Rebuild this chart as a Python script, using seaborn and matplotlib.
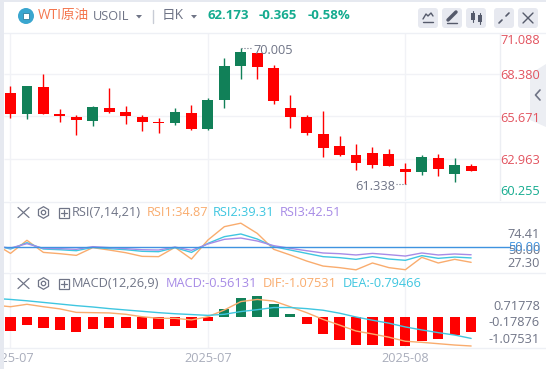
import numpy as np
import pandas as pd
import matplotlib
matplotlib.use("Agg")
import matplotlib.pyplot as plt
from matplotlib.patches import FancyBboxPatch, Rectangle, Circle, RegularPolygon, Polygon
import seaborn as sns

# candle data
opens = [67.18, 65.83, 67.57, 65.83, 65.64, 65.38, 66.21, 65.96, 65.64, 65.31, 65.25, 65.89, 64.86, 66.73, 68.92,
         69.75, 68.79, 66.21, 65.64, 64.54, 63.77, 63.19, 63.32, 63.26, 62.29, 62.10, 63.00, 61.97, 62.49]
closes = [65.83, 67.63, 65.83, 65.70, 65.44, 66.28, 65.96, 65.70, 65.31, 65.25, 65.96, 64.86, 66.73, 68.92, 69.82,
          68.85, 66.67, 65.64, 64.61, 63.64, 63.19, 62.68, 62.55, 62.49, 62.10, 63.06, 62.29, 62.55, 62.173]
highs = [67.63, 67.63, 68.40, 66.15, 65.76, 66.34, 67.50, 66.34, 65.76, 65.57, 66.21, 66.41, 66.86, 69.43, 70.05,
         69.75, 68.98, 67.05, 65.76, 66.02, 64.41, 63.90, 63.71, 63.58, 62.68, 63.19, 63.26, 63.00, 62.61]
lows = [65.57, 65.51, 65.83, 65.31, 64.48, 65.06, 65.89, 65.19, 64.74, 64.61, 65.12, 64.82, 64.82, 66.21, 68.08,
        68.08, 66.47, 64.93, 64.48, 63.06, 63.13, 62.23, 62.36, 62.49, 61.338, 61.91, 61.84, 61.46, 62.16]

# RSI / MACD lines start one day before the first candle
line_days = list(range(-1, 29))
rsi1 = [54.0, 43.9, 57.1, 44.9, 43.6, 41.9, 49.7, 47.3, 44.6, 40.9, 40.6, 50.0, 38.2, 57.4, 70.9,
        74.41, 64.1, 48.0, 42.3, 36.2, 31.1, 29.5, 27.3, 34.2, 29.5, 27.4, 39.9, 34.2, 37.9, 34.87]
rsi2 = [52.4, 48.3, 54.7, 48.3, 47.6, 46.6, 50.0, 48.7, 47.6, 46.0, 45.6, 49.7, 44.9, 54.0, 60.8,
        63.5, 58.4, 50.7, 47.3, 43.9, 40.6, 39.6, 37.9, 40.6, 38.2, 36.9, 41.6, 38.9, 40.2, 39.31]
rsi3 = [51.3, 49.3, 53.7, 49.0, 48.7, 48.0, 50.7, 49.7, 48.7, 47.6, 47.3, 50.3, 47.0, 53.4, 58.1,
        59.4, 56.4, 51.7, 49.0, 46.6, 44.3, 43.6, 42.3, 43.9, 42.6, 41.2, 44.3, 42.3, 43.3, 42.51]
dif = [0.44, 0.38, 0.47, 0.38, 0.30, 0.17, 0.16, 0.15, 0.10, 0.01, -0.05, -0.05, -0.11, 0.01, 0.26,
       0.57, 0.65, 0.59, 0.38, 0.16, -0.09, -0.30, -0.52, -0.63, -0.75, -0.90, -0.94, -0.99, -1.04, -1.07531]
dea = [0.69, 0.65, 0.60, 0.54, 0.48, 0.42, 0.37, 0.31, 0.26, 0.21, 0.16, 0.12, 0.09, 0.06, 0.10,
       0.20, 0.27, 0.35, 0.35, 0.31, 0.25, 0.14, 0.00, -0.12, -0.23, -0.37, -0.48, -0.58, -0.67, -0.79466]
hist = [-0.52, -0.30, -0.41, -0.48, -0.56, -0.44, -0.41, -0.41, -0.44, -0.44, -0.33, -0.41, -0.15, 0.30, 0.70,
        0.78, 0.48, 0.11, -0.26, -0.63, -0.85, -1.04, -1.04, -1.07, -1.07, -0.89, -0.81, -0.67, -0.56131]

price_labels = ["71.088", "68.380", "65.671", "62.963", "60.255"]
price_grid = [68.38, 65.671, 62.963]
rsi_labels = ["74.41", "50.00", "27.30"]
macd_labels = ["0.71778", "-0.17876", "-1.07531"]
date_labels = ["2025-07", "2025-07", "2025-08"]
date_days = [0, 12, 24]

RED = "#ff0000"
GREEN = "#118058"
TEAL = "#14ab8f"
ORANGE = "#f9ac6e"
CYAN = "#3fc6e0"
PURPLE = "#a78be6"
GRID = "#f1f2f6"
GREY = "#6f7486"

sns.set_style("white")
plt.rcParams["font.family"] = ["Open Sans", "Noto Sans CJK SC", "DejaVu Sans"]

W, H = 546, 369
fig = plt.figure(figsize=(W / 100, H / 100), dpi=100, facecolor="white")


def panel(top, bottom):
    ax = fig.add_axes([4 / W, 1 - bottom / H, (W - 4) / W, (bottom - top) / H])
    ax.patch.set_alpha(0)
    return ax


x_range = (-0.395, 32.55)
grid_end = 29.76

# price panel
ax = panel(33, 201)
for d in date_days:
    ax.axvline(d, color=GRID, lw=1, zorder=0)
ax.hlines(price_grid, x_range[0], grid_end, color=GRID, lw=1, zorder=0)
days = np.arange(len(opens))
for i in days:
    c = GREEN if closes[i] > opens[i] else RED
    ax.vlines(i, lows[i], highs[i], color=c, lw=1, zorder=2)
    ax.bar(i, abs(closes[i] - opens[i]), bottom=min(opens[i], closes[i]), width=0.66, color=c, lw=0, zorder=3)
ax.axvline(grid_end, color="#eceef3", lw=1, zorder=0)
ax.set_ylim(60.23, 71.04)

# RSI panel
ax_rsi = panel(202, 272)
for d in date_days:
    ax_rsi.axvline(d, color=GRID, lw=1, zorder=0)
sns.lineplot(x=line_days, y=rsi1, color=ORANGE, lw=1, errorbar=None, ax=ax_rsi)
sns.lineplot(x=line_days, y=rsi2, color=CYAN, lw=1, errorbar=None, ax=ax_rsi)
sns.lineplot(x=line_days, y=rsi3, color=PURPLE, lw=1, errorbar=None, ax=ax_rsi)
ax_rsi.hlines(50, x_range[0], 30.36, color="#3f93e0", lw=1, zorder=4)
ax_rsi.set_ylim(25.1, 95.8)

# MACD panel
ax_macd = panel(273, 348)
for d in date_days:
    ax_macd.axvline(d, color=GRID, lw=1, zorder=0)
bars = pd.DataFrame({"day": days, "hist": hist, "dir": ["up" if v > 0 else "down" for v in hist]})
sns.barplot(data=bars, x="day", y="hist", hue="dir", palette={"up": GREEN, "down": RED}, dodge=False,
            native_scale=True, width=0.62, saturation=1, linewidth=0, legend=False, ax=ax_macd)
sns.lineplot(x=line_days, y=dif, color=ORANGE, lw=1, errorbar=None, ax=ax_macd)
sns.lineplot(x=line_days, y=dea, color=CYAN, lw=1, errorbar=None, ax=ax_macd)
ax_macd.set_ylim(-1.15, 1.63)

for a in (ax, ax_rsi, ax_macd):
    a.set_xlim(*x_range)
    a.set_xlabel("")
    a.set_ylabel("")
    a.set_yticks([])
    a.set_xticks([])
    sns.despine(ax=a, left=True, bottom=True)
ax_macd.set_xticks(date_days, date_labels, color="#a9adbb", fontsize=9.2)
ax_macd.tick_params(axis="x", length=0, pad=3)

# overlay in pixel coordinates for the chrome around the chart
ov = fig.add_axes([0, 0, 1, 1], zorder=10)
ov.set_xlim(0, W)
ov.set_ylim(H, 0)
ov.axis("off")
ov.patch.set_alpha(0)

ov.add_patch(Rectangle((0, 0), W, 2, color="#e6e9f0", lw=0))
ov.add_patch(Rectangle((0, 0), 3.5, H, color="#e6e9f0", lw=0))
for y in (33, 201.5, 272.5, 348):
    ov.plot([3.5, W], [y, y], color="#eef0f5", lw=1)

# header
ov.add_patch(Circle((26, 16), 8, color="#3aa6cf", lw=0))
ov.add_patch(Rectangle((23, 13), 6, 6, fc="white", ec="#2f7f9f", lw=0.6))
ov.text(38, 15.5, "WTI原油", color="#f4764e", fontsize=9.8, va="center")
ov.text(93, 17, "USOIL", color=GREY, fontsize=9.2, va="center")
ov.add_patch(Polygon([[136, 15], [142, 15], [139, 18.5]], color=GREY, lw=0))
ov.plot([152.5, 152.5], [10, 23], color="#c8ccd6", lw=1)
ov.text(162, 15.5, "日K", color=GREY, fontsize=9.8, va="center")
ov.add_patch(Polygon([[191, 15], [197, 15], [194, 18.5]], color=GREY, lw=0))
ov.text(207, 15.5, "62.173", color=TEAL, fontsize=9.5, fontweight="bold", va="center")
ov.text(259, 15.5, "-0.365", color=TEAL, fontsize=9.5, fontweight="bold", va="center")
ov.text(308, 15.5, "-0.58%", color=TEAL, fontsize=9.5, fontweight="bold", va="center")

# toolbar buttons
for bx in (418, 442, 466, 494, 518):
    ov.add_patch(FancyBboxPatch((bx + 2, 10), 16, 16, boxstyle="round,pad=2,rounding_size=3", fc="#e7e9f0", lw=0))
ov.plot([423, 426, 428, 431, 433], [19, 14, 16, 13, 16], color="#555a6b", lw=1)
ov.plot([423, 433], [22, 22], color="#555a6b", lw=1)
ov.plot([448, 456], [20, 12], color="#555a6b", lw=2.5)
ov.plot([447, 457], [23, 23], color="#555a6b", lw=1)
ov.add_patch(Rectangle((471, 13), 4, 7, color="#555a6b", lw=0))
ov.add_patch(Rectangle((478, 15), 4, 7, color="#555a6b", lw=0))
ov.plot([473, 473], [11, 22], color="#555a6b", lw=0.8)
ov.plot([480, 480], [13, 24], color="#555a6b", lw=0.8)
ov.plot([499, 502], [23, 20], color="#555a6b", lw=1.2)
ov.plot([506, 509], [16, 13], color="#555a6b", lw=1.2)
ov.plot([523, 533], [13, 23], color="#555a6b", lw=1)
ov.plot([523, 533], [23, 13], color="#555a6b", lw=1)

# side handle
ov.add_patch(Polygon([[530, 74], [546, 64], [546, 127], [530, 120]], color="#eceef3", lw=0))
ov.plot([540, 535.5, 540], [90, 95, 100], color=GREY, lw=1.2)

# price labels
for lab, y, col in zip(price_labels, [40.7, 75.7, 118.7, 160.7, 191.7], ["#e2535f"] * 4 + [TEAL]):
    ov.text(540, y, lab, color=col, fontsize=9.2, ha="right", va="center")
for lab, y in zip(rsi_labels, [234.5, 250, 263.5]):
    ov.text(540, y, lab, color=GREY, fontsize=9.2, ha="right", va="center")
ov.text(540, 247.5, "50.00", color="#3f93e0", fontsize=9.2, ha="right", va="center")
for lab, y in zip(macd_labels, [306, 322.5, 339.5]):
    ov.text(540, y, lab, color=GREY, fontsize=9.2, ha="right", va="center")

# high / low marks
ov.plot([241, 252], [47.5, 47.5], color=GREY, lw=0.8, ls=":")
ov.text(253, 50.5, "70.005", color=GREY, fontsize=9.2, va="center")
ov.plot([396, 406], [183.5, 183.5], color=GREY, lw=0.8, ls=":")
ov.text(355, 186.5, "61.338", color=GREY, fontsize=9.2, va="center")


# panel headers
def header(y, parts):
    ov.plot([18, 29], [y - 5, y + 5], color=GREY, lw=0.9)
    ov.plot([18, 29], [y + 5, y - 5], color=GREY, lw=0.9)
    ov.add_patch(RegularPolygon((43.5, y), 6, radius=5.8, fc="none", ec=GREY, lw=0.9))
    ov.add_patch(Circle((43.5, y), 2.2, fc="none", ec=GREY, lw=0.9))
    ov.add_patch(Rectangle((58.5, y - 5), 10, 10, fc="none", ec=GREY, lw=0.9))
    ov.plot([60.5, 66.5], [y, y], color=GREY, lw=0.9)
    ov.plot([63.5, 63.5], [y - 3, y + 3], color=GREY, lw=0.9)
    for tx, s, col in parts:
        ov.text(tx, y, s, color=col, fontsize=9.2, va="center")


header(212.5, [(72, "RSI(7,14,21)", GREY), (146.5, "RSI1:34.87", ORANGE), (213, "RSI2:39.31", CYAN),
               (279.5, "RSI3:42.51", PURPLE)])
header(283.5, [(72, "MACD(12,26,9)", GREY), (165.5, "MACD:-0.56131", PURPLE), (263, "DIF:-1.07531", ORANGE),
               (342.5, "DEA:-0.79466", CYAN)])

fig.savefig("out.png", dpi=100)
